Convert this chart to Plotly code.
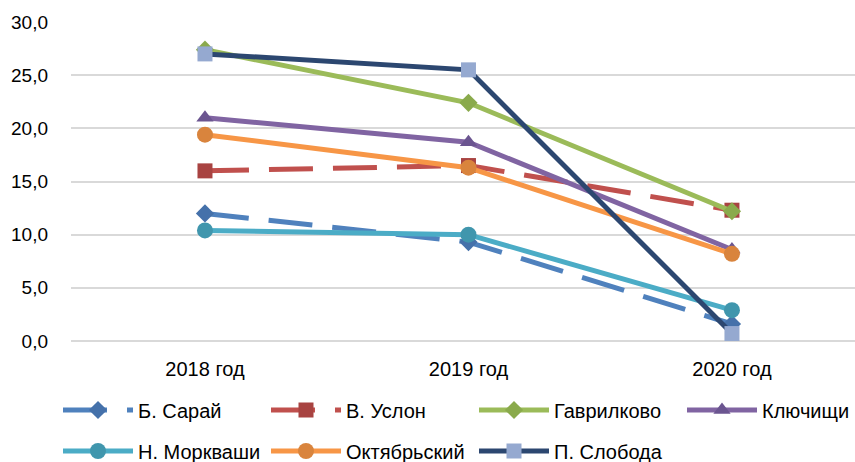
import plotly.graph_objects as go

years = ["2018 год", "2019 год", "2020 год"]
series_names = ["Б. Сарай", "В. Услон", "Гаврилково", "Ключищи", "Н. Моркваши", "Октябрьский", "П. Слобода"]
b_saray = [12.0, 9.3, 1.6]
v_uslon = [16.0, 16.5, 12.3]
gavrilkovo = [27.4, 22.4, 12.2]
klyuchishchi = [21.0, 18.7, 8.6]
n_morkvashi = [10.4, 10.0, 2.9]
oktyabrsky = [19.4, 16.3, 8.2]
p_sloboda = [27.0, 25.5, 0.7]
y_ticks = [0, 5, 10, 15, 20, 25, 30]

values = [b_saray, v_uslon, gavrilkovo, klyuchishchi, n_morkvashi, oktyabrsky, p_sloboda]
styles = [
    dict(line="#4F81BD", marker="#4571AA", symbol="diamond", dash="44px,20px", size=14),
    dict(line="#C0504D", marker="#A84341", symbol="square", dash="44px,20px", size=15),
    dict(line="#9BBB59", marker="#8AAA4C", symbol="diamond", dash="solid", size=14),
    dict(line="#8064A2", marker="#6B5590", symbol="triangle-up", dash="solid", size=15),
    dict(line="#4BACC6", marker="#4096AD", symbol="circle", dash="solid", size=16),
    dict(line="#F79646", marker="#D9843D", symbol="circle", dash="solid", size=16),
    dict(line="#2C4770", marker="#95A9D0", symbol="square", dash="solid", size=15),
]
# legend slots: (left x of entry in px, row center y in px)
legend_slots = [(58, 410), (266, 410), (474, 410), (682, 410),
                (58, 451), (266, 451), (474, 451)]

font = "Liberation Sans"
fs = 20

fig = go.Figure()
layout_legends = {}
for i, (name, vals, st) in enumerate(zip(series_names, values, styles)):
    lname = "legend" if i == 0 else f"legend{i + 1}"
    fig.add_trace(go.Scatter(
        x=years, y=vals, name=name, mode="lines+markers",
        legend=lname,
        line=dict(color=st["line"], width=5, dash=st["dash"]),
        marker=dict(color=st["marker"], symbol=st["symbol"], size=st["size"], line=dict(width=0)),
    ))
    lx, ly = legend_slots[i]
    layout_legends[lname] = dict(
        orientation="h", xref="container", yref="container",
        x=lx / 855, xanchor="left", y=1 - ly / 462, yanchor="middle",
        font=dict(size=fs, family=font), itemwidth=70, bgcolor="rgba(0,0,0,0)",
        borderwidth=0,
    )

fig.update_layout(
    width=855, height=462,
    margin=dict(l=71, r=0, t=22, b=121),
    paper_bgcolor="white", plot_bgcolor="white",
    separators=",.",
    font=dict(family=font, size=fs, color="#000000"),
    xaxis=dict(
        type="category", range=[-0.5085, 2.467], showgrid=False, zeroline=False,
        showline=False, ticks="", ticklabelstandoff=14,
        tickfont=dict(size=fs, family=font),
    ),
    yaxis=dict(
        range=[0, 30], tickvals=y_ticks, tickformat=".1f", showgrid=True,
        gridcolor="#D9D9D9", gridwidth=1.5, zeroline=True, zerolinecolor="#D9D9D9",
        zerolinewidth=1.5, showline=False, ticks="", ticklabelstandoff=22,
        tickfont=dict(size=19, family=font),
    ),
    showlegend=True,
    **layout_legends,
)

fig.write_html("out.html")
